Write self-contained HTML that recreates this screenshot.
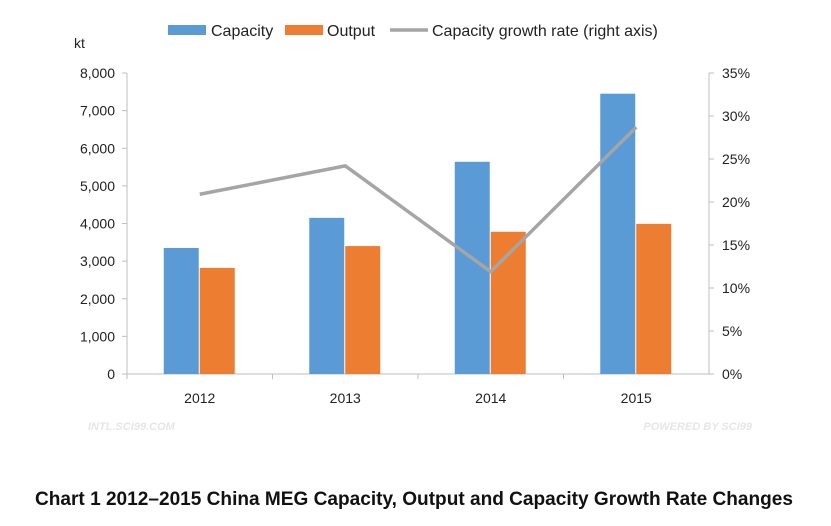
<!DOCTYPE html>
<html><head><meta charset="utf-8"><style>
body{margin:0;background:#fff;width:831px;height:521px;overflow:hidden;font-family:"Liberation Sans","Noto Sans CJK SC",sans-serif}
</style></head><body>
<svg id="c" width="831" height="521" xmlns="http://www.w3.org/2000/svg"></svg>
<script>
const categories=["2012","2013","2014","2015"];
const capacity=[3350,4150,5640,7450];
const output=[2820,3400,3780,3990];
const growth=[20.9,24.2,11.9,28.7];
const leftTicks=[0,1000,2000,3000,4000,5000,6000,7000,8000];
const rightTicks=[0,5,10,15,20,25,30,35];
const svg=document.getElementById('c');
const NS='http://www.w3.org/2000/svg';
const X0=127,X1=709,Y0=374,Y1=73;
const yL=v=>Y0-(v/8000)*(Y0-Y1);
const yR=v=>Y0-(v/35)*(Y0-Y1);
const band=(X1-X0)/categories.length;
const xc=i=>X0+band*(i+0.5);
function mk(t,a,txt){const e=document.createElementNS(NS,t);for(const k in a)e.setAttribute(k,a[k]);if(txt!==undefined)e.textContent=txt;svg.appendChild(e);return e;}
let e;
e=mk('line',{x1:X0,y1:Y1,x2:X0,y2:Y0,stroke:'#bfbfbf'});


e=mk('line',{x1:X1,y1:Y1,x2:X1,y2:Y0,stroke:'#bfbfbf'});


e=mk('line',{x1:X0,y1:Y0,x2:X1,y2:Y0,stroke:'#bfbfbf'});


leftTicks.forEach(v=>{
  e=mk('text',{x:X0-12,y:yL(v)+5,'text-anchor':'end','font-size':14,fill:'#222'},v.toLocaleString('en-US'));
  
  
  mk('line',{x1:X0-5,y1:yL(v),x2:X0,y2:yL(v),stroke:'#bfbfbf'});
});
rightTicks.forEach(v=>{
  e=mk('text',{x:X1+13,y:yR(v)+5,'font-size':14,fill:'#222'},v+'%');
  
  
  mk('line',{x1:X1,y1:yR(v),x2:X1+5,y2:yR(v),stroke:'#bfbfbf'});
});
e=mk('text',{x:74,y:48,'font-size':14,fill:'#222'},'kt');


const bw=35;
categories.forEach((c,i)=>{
  e=mk('rect',{x:xc(i)-bw-1,y:yL(capacity[i]),width:bw,height:Y0-yL(capacity[i]),fill:'#5b9bd5'});
  
  
  e=mk('rect',{x:xc(i),y:yL(output[i]),width:bw,height:Y0-yL(output[i]),fill:'#ed7d31'});
  
  
  e=mk('text',{x:xc(i),y:403,'text-anchor':'middle','font-size':14,fill:'#222'},c);
  
  
  mk('line',{x1:X0+band*i,y1:Y0,x2:X0+band*i,y2:Y0+5,stroke:'#bfbfbf'});
});
e=mk('polyline',{points:growth.map((g,i)=>xc(i)+','+yR(g)).join(' '),fill:'none',stroke:'#a5a5a5','stroke-width':3.5});


// legend
e=mk('rect',{x:168,y:25,width:38,height:10,fill:'#5b9bd5'});


e=mk('text',{x:211,y:36,'font-size':16,fill:'#222'},'Capacity');


e=mk('rect',{x:285,y:25,width:38,height:10,fill:'#ed7d31'});


e=mk('text',{x:327,y:36,'font-size':16,fill:'#222'},'Output');


e=mk('line',{x1:390,y1:30,x2:428,y2:30,stroke:'#a5a5a5','stroke-width':3.5});


e=mk('text',{x:432,y:36,'font-size':16,fill:'#222'},'Capacity growth rate (right axis)');


e=mk('text',{x:88,y:430,'font-size':11,'font-weight':'bold','font-style':'italic',fill:'#e6e6e6'},'INTL.SCI99.COM');


e=mk('text',{x:752,y:430,'text-anchor':'end','font-size':11,'font-weight':'bold','font-style':'italic',fill:'#e6e6e6'},'POWERED BY SCI99');


e=mk('text',{x:35,y:505,'font-size':19,'font-weight':'bold',fill:'#111',textLength:758,lengthAdjust:'spacingAndGlyphs'},'Chart 1 2012–2015 China MEG Capacity, Output and Capacity Growth Rate Changes');


</script>
</body></html>
